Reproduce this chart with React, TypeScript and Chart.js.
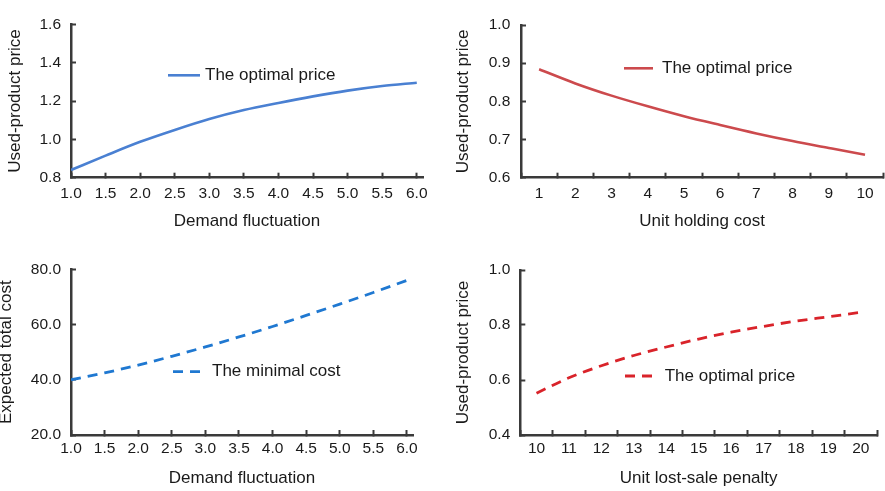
import React, { useEffect, useRef } from "react";
import { Chart, registerables } from "chart.js";

Chart.register(...registerables);

// ---- data ----
const demandLevels = [1.0, 1.5, 2.0, 2.5, 3.0, 3.5, 4.0, 4.5, 5.0, 5.5, 6.0];
const priceByDemand = [0.84, 0.915, 0.987, 1.049, 1.106, 1.153, 1.19, 1.224, 1.254, 1.278, 1.295];
const holdingCosts = ["1", "2", "3", "4", "5", "6", "7", "8", "9", "10"];
const priceByHolding = [0.884, 0.847, 0.815, 0.787, 0.761, 0.738, 0.716, 0.696, 0.678, 0.66];
const costByDemand = [40, 42.5, 45.3, 48.5, 51.9, 55.5, 59.3, 63.3, 67.4, 71.6, 76];
const penalties = ["10", "11", "12", "13", "14", "15", "16", "17", "18", "19", "20"];
const priceByPenalty = [0.552, 0.608, 0.652, 0.689, 0.72, 0.749, 0.774, 0.795, 0.814, 0.83, 0.846];

const AXIS = "#3a3a3a";
const TEXT = "#1a1a1a";
const FAMILY = "'Liberation Sans', Arial, Helvetica, sans-serif";

const inlineLegend = {
  id: "inlineLegend",
  afterDatasetsDraw(chart: any, _args: any, opts: any) {
    const ds: any = chart.data.datasets[0];
    const ctx = chart.ctx;
    ctx.save();
    ctx.strokeStyle = ds.borderColor;
    ctx.lineWidth = ds.borderWidth;
    ctx.setLineDash(ds.borderDash || []);
    ctx.beginPath();
    ctx.moveTo(opts.x, opts.y);
    ctx.lineTo(opts.x + opts.len, opts.y);
    ctx.stroke();
    ctx.setLineDash([]);
    ctx.fillStyle = TEXT;
    ctx.font = `17px ${FAMILY}`;
    ctx.textBaseline = "middle";
    ctx.textAlign = "left";
    ctx.fillText(ds.label, opts.textX, opts.y);
    ctx.restore();
  },
};

type PanelCfg = {
  left: number;
  top: number;
  width: number;
  height: number;
  build: () => any;
};

function tickFont() {
  return { family: FAMILY, size: 15.5 };
}
function titleFont() {
  return { family: FAMILY, size: 17 };
}

function xAxis(opts: any) {
  const { type, title, min, max, tickValues, labelPad, titlePadBottom, height, offset } = opts;
  const ax: any = {
    type,
    offset: !!offset,
    border: { display: true, color: AXIS, width: 2.5 },
    grid: {
      drawOnChartArea: false,
      drawTicks: true,
      tickLength: -5,
      tickColor: AXIS,
      tickWidth: 2,
      color: AXIS,
      offset: !!offset,
    },
    ticks: {
      color: TEXT,
      font: tickFont(),
      padding: labelPad,
      autoSkip: false,
      maxRotation: 0,
      minRotation: 0,
    },
    title: {
      display: true,
      text: title,
      color: TEXT,
      font: titleFont(),
      padding: { top: 0, bottom: titlePadBottom },
    },
    afterFit: (s: any) => {
      s.height = height;
    },
  };
  if (type === "linear") {
    ax.min = min;
    ax.max = max;
    ax.ticks.callback = (v: any) => Number(v).toFixed(1);
    ax.afterBuildTicks = (s: any) => {
      s.ticks = tickValues.map((v: number) => ({ value: v }));
    };
  }
  return ax;
}

function yAxis(opts: any) {
  const { title, min, max, step, labelPad, titlePad, width } = opts;
  return {
    type: "linear",
    min,
    max,
    border: { display: true, color: AXIS, width: 2.5 },
    grid: {
      drawOnChartArea: false,
      drawTicks: true,
      tickLength: -5,
      tickColor: AXIS,
      tickWidth: 2,
      color: AXIS,
    },
    ticks: {
      color: TEXT,
      font: tickFont(),
      padding: labelPad,
      stepSize: step,
      callback: (v: any) => Number(v).toFixed(1),
    },
    title: {
      display: true,
      text: title,
      color: TEXT,
      font: titleFont(),
      padding: { top: titlePad, bottom: 0 },
    },
    afterFit: (s: any) => {
      s.width = width;
    },
  };
}

function baseOptions(padding: any, scales: any, legend: any) {
  return {
    type: "line",
    options: {
      responsive: false,
      animation: false,
      devicePixelRatio: 1,
      layout: { padding },
      plugins: {
        legend: { display: false },
        tooltip: { enabled: false },
        inlineLegend: legend,
      },
      scales,
      elements: { point: { radius: 0 } },
    },
    plugins: [inlineLegend],
  };
}

const panels: PanelCfg[] = [
  {
    left: 0,
    top: 0,
    width: 442,
    height: 245,
    build: () => {
      const cfg: any = baseOptions(
        { left: 0, top: 13.3, right: 19, bottom: 0 },
        {
          x: xAxis({ type: "linear", title: "Demand fluctuation", min: 1, max: 6.09, tickValues: demandLevels, labelPad: 11.3, titlePadBottom: 13.1, height: 67.3 }),
          y: yAxis({ title: "Used-product price", min: 0.8, max: 1.6, step: 0.2, labelPad: 15, titlePad: 5.1, width: 71 }),
        },
        { x: 168, y: 75.3, len: 32, textX: 205 }
      );
      cfg.data = {
        datasets: [
          {
            label: "The optimal price",
            data: demandLevels.map((d, i) => ({ x: d, y: priceByDemand[i] })),
            borderColor: "#4a80d2",
            borderWidth: 2.6,
            cubicInterpolationMode: "monotone",
            fill: false,
          },
        ],
      };
      return cfg;
    },
  },
  {
    left: 442,
    top: 0,
    width: 443,
    height: 245,
    build: () => {
      const cfg: any = baseOptions(
        { left: 0, top: 11, right: 1.3, bottom: 0 },
        {
          x: xAxis({ type: "category", title: "Unit holding cost", labelPad: 11.3, titlePadBottom: 13.1, height: 67.3, offset: true }),
          y: yAxis({ title: "Used-product price", min: 0.6, max: 1.0, step: 0.1, labelPad: 15.7, titlePad: 11.5, width: 79 }),
        },
        { x: 182, y: 68.3, len: 29, textX: 220 }
      );
      cfg.data = {
        labels: holdingCosts,
        datasets: [
          {
            label: "The optimal price",
            data: priceByHolding,
            borderColor: "#cc4a4d",
            borderWidth: 2.6,
            cubicInterpolationMode: "monotone",
            fill: false,
          },
        ],
      };
      return cfg;
    },
  },
  {
    left: 0,
    top: 245,
    width: 442,
    height: 246,
    build: () => {
      const cfg: any = baseOptions(
        { left: 0, top: 23.3, right: 29, bottom: 0 },
        {
          x: xAxis({ type: "linear", title: "Demand fluctuation", min: 1, max: 6.09, tickValues: demandLevels, labelPad: 9.7, titlePadBottom: 2.5, height: 56 }),
          y: yAxis({ title: "Expected total cost", min: 20, max: 80, step: 20, labelPad: 15, titlePad: -3.5, width: 71 }),
        },
        { x: 173, y: 126.7, len: 30, textX: 212 }
      );
      cfg.data = {
        datasets: [
          {
            label: "The minimal cost",
            data: demandLevels.map((d, i) => ({ x: d, y: costByDemand[i] })),
            borderColor: "#1f78d1",
            borderWidth: 2.8,
            borderDash: [10, 7],
            cubicInterpolationMode: "monotone",
            fill: false,
          },
        ],
      };
      return cfg;
    },
  },
  {
    left: 442,
    top: 245,
    width: 443,
    height: 246,
    build: () => {
      const cfg: any = baseOptions(
        { left: 0, top: 25, right: 8, bottom: 0 },
        {
          x: xAxis({ type: "category", title: "Unit lost-sale penalty", labelPad: 9.7, titlePadBottom: 2.5, height: 56, offset: true }),
          y: yAxis({ title: "Used-product price", min: 0.4, max: 1.0, step: 0.2, labelPad: 15, titlePad: 11.5, width: 78.3 }),
        },
        { x: 183, y: 131, len: 30, textX: 222.7 }
      );
      cfg.data = {
        labels: penalties,
        datasets: [
          {
            label: "The optimal price",
            data: priceByPenalty,
            borderColor: "#d9232a",
            borderWidth: 2.8,
            borderDash: [10, 7],
            cubicInterpolationMode: "monotone",
            fill: false,
          },
        ],
      };
      return cfg;
    },
  },
];

function Panel({ cfg }: { cfg: PanelCfg }) {
  const ref = useRef<HTMLCanvasElement | null>(null);
  useEffect(() => {
    if (!ref.current) return;
    const chart = new Chart(ref.current, cfg.build());
    return () => chart.destroy();
  }, [cfg]);
  return (
    <canvas
      ref={ref}
      width={cfg.width}
      height={cfg.height}
      style={{
        position: "absolute",
        left: cfg.left,
        top: cfg.top,
        width: cfg.width,
        height: cfg.height,
      }}
    />
  );
}

export default function App() {
  return (
    <div
      style={{
        position: "absolute",
        left: 0,
        top: 0,
        width: 885,
        height: 491,
        background: "#ffffff",
        overflow: "hidden",
      }}
    >
      {panels.map((p, i) => (
        <Panel key={i} cfg={p} />
      ))}
    </div>
  );
}
